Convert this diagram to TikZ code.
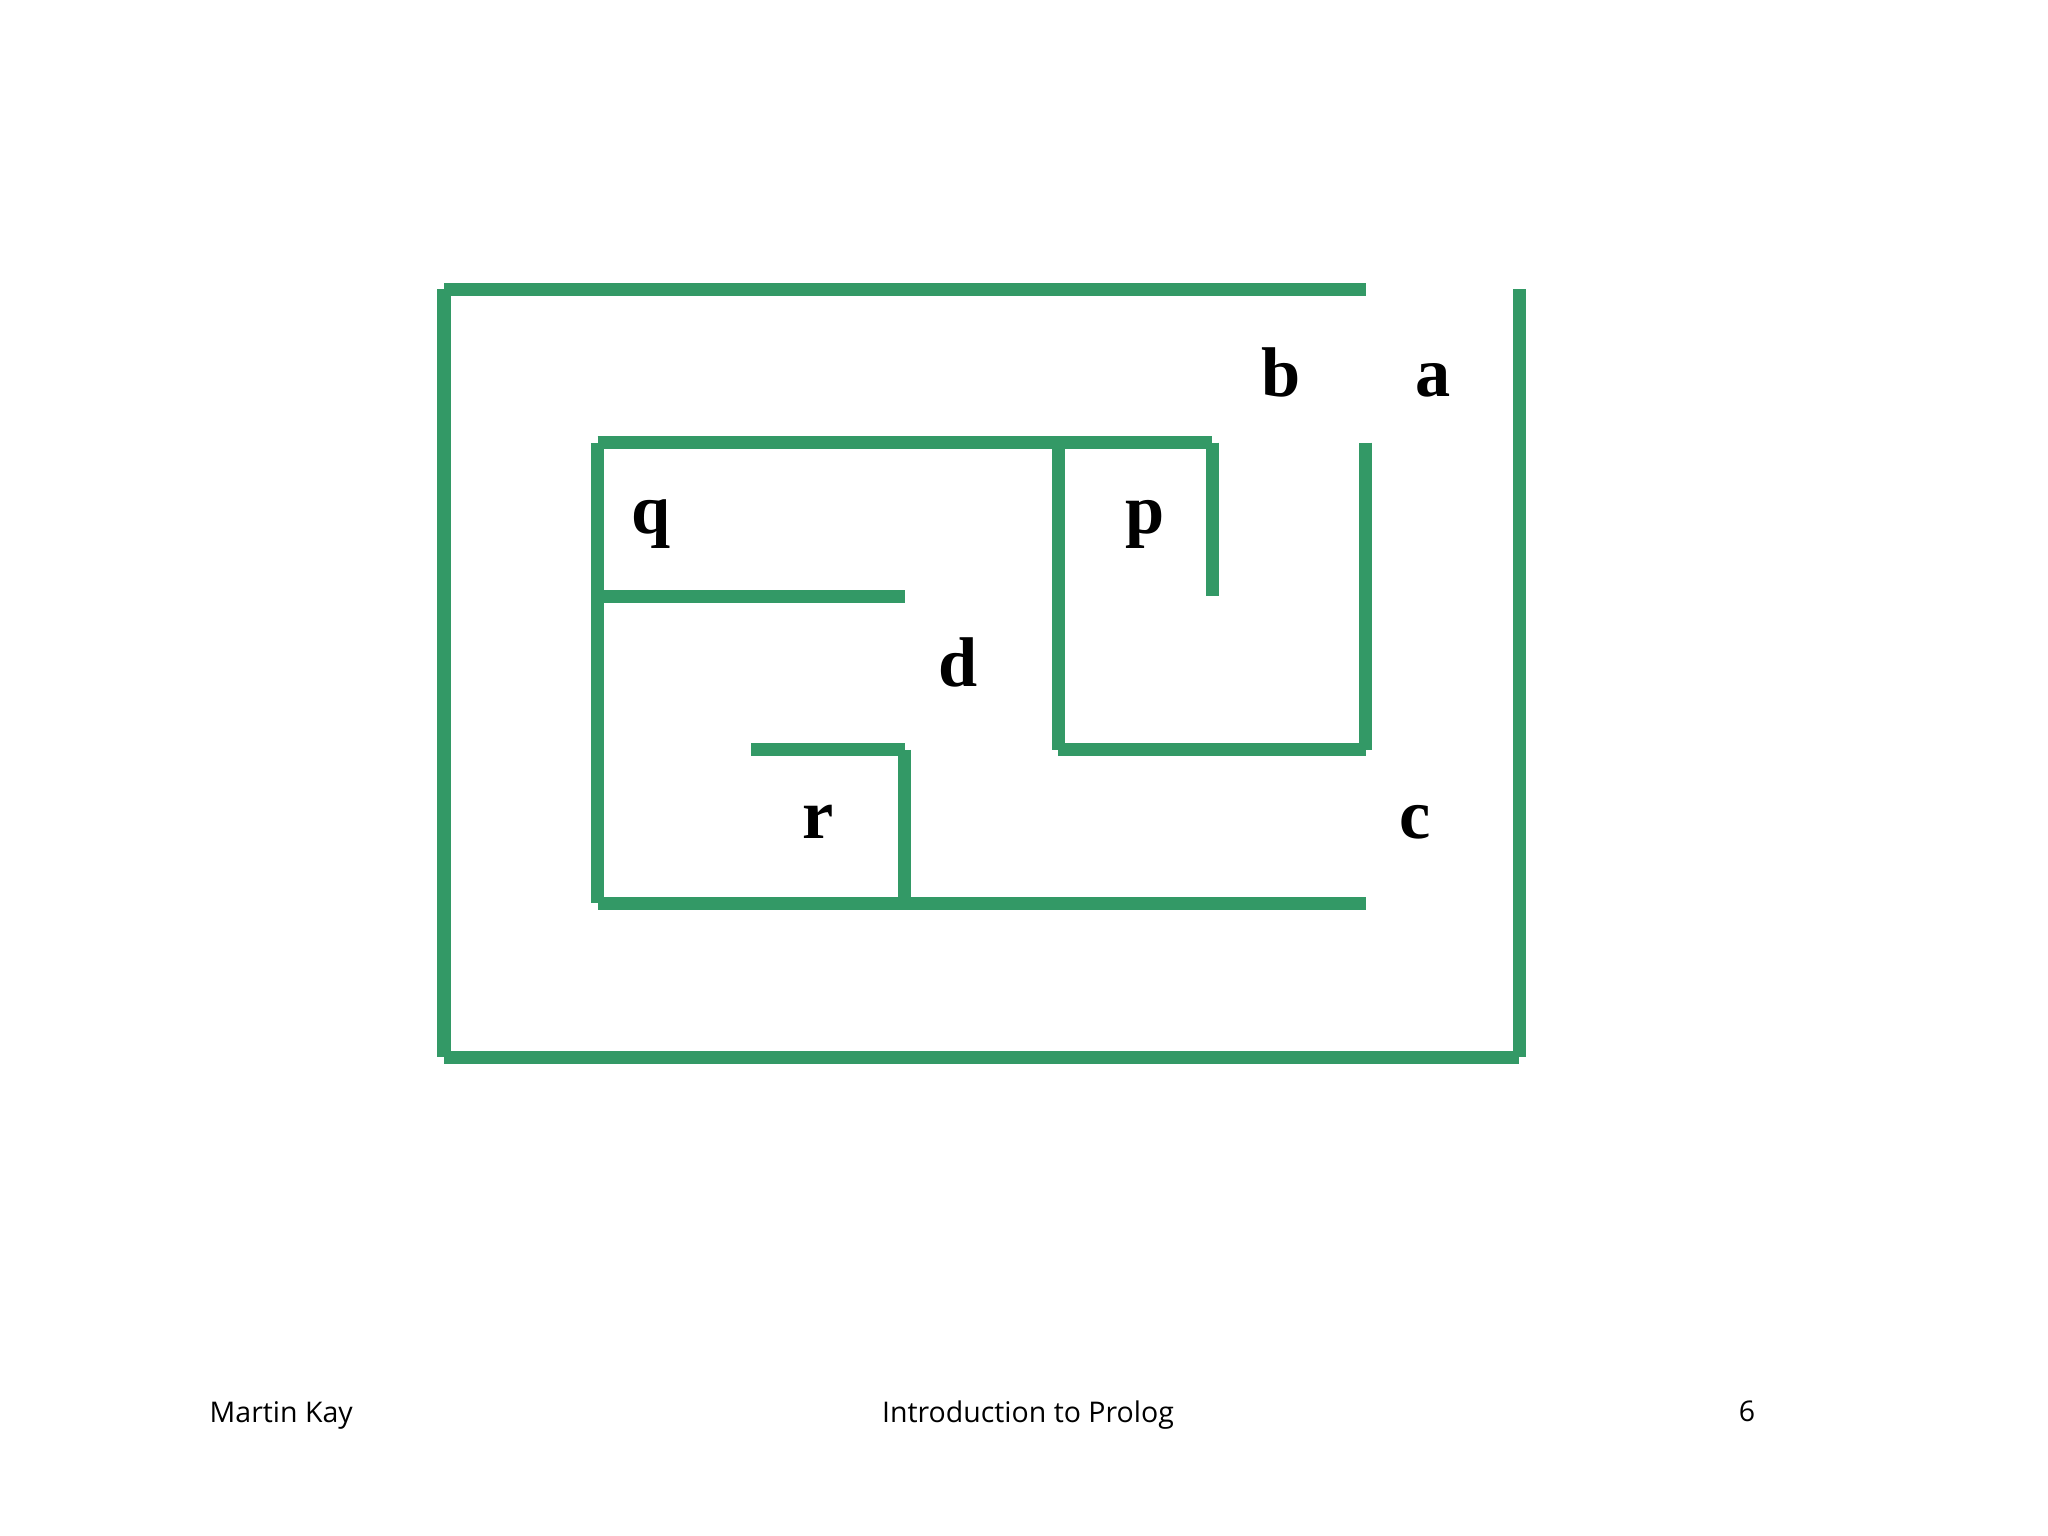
\documentclass[tikz,border=0pt]{standalone}
\usepackage{fontspec}
\newfontfamily\labfont{Liberation Serif}
\newfontfamily\footfont{Open Sans}
\definecolor{mazegreen}{RGB}{51,153,102}
\begin{document}
\begin{tikzpicture}[x=0.01cm,y=-0.01cm,
  wall/.style={draw=mazegreen,line width=3.7pt,line cap=butt},
  lbl/.style={anchor=base,inner sep=0pt,font=\labfont\bfseries\fontsize{20}{24}\selectfont},
  foot/.style={inner sep=0pt,font=\footfont\fontsize{8.1}{10}\selectfont}]
\useasboundingbox[fill=white] (0,0) rectangle (2048,1536);
% grid
\foreach \i/\x in {0/444,1/597.6,2/751.2,3/904.8,4/1058.4,5/1212,6/1365.6,7/1519.2}{
  \foreach \j/\y in {0/289,1/442.6,2/596.2,3/749.8,4/903.4,5/1057}{
    \coordinate (g\i\j) at (\x,\y);
  }
}
% outer walls
\draw[wall] (g00) -- (g60);
\draw[wall] (g00) -- (g05);
\draw[wall] (g05) -- (g75);
\draw[wall] (g70) -- (g75);
% inner walls
\draw[wall] (g11) -- (g51);
\draw[wall] (g11) -- (g14);
\draw[wall] (g12) -- (g32);
\draw[wall] (g41) -- (g43);
\draw[wall] (g43) -- (g63);
\draw[wall] (g61) -- (g63);
\draw[wall] (g51) -- (g52);
\draw[wall] (g23) -- (g33);
\draw[wall] (g33) -- (g34);
\draw[wall] (g14) -- (g64);
% labels
\node[lbl] (b) at (1281,396) {b};
\node[lbl] (a) at (1433,396) {a};
\node[lbl] (q) at (651,533) {q};
\node[lbl] (p) at (1145,533) {p};
\node[lbl] (d) at (958,686) {d};
\node[lbl] (r) at (818,838) {r};
\node[lbl] (c) at (1415,838) {c};
% footer
\node[foot,anchor=base west] (author) at (209,1422) {Martin Kay};
\node[foot,anchor=base] (title) at (1028,1422) {Introduction to Prolog};
\node[foot,anchor=base] (page) at (1747,1421) {6};
\end{tikzpicture}
\end{document}
